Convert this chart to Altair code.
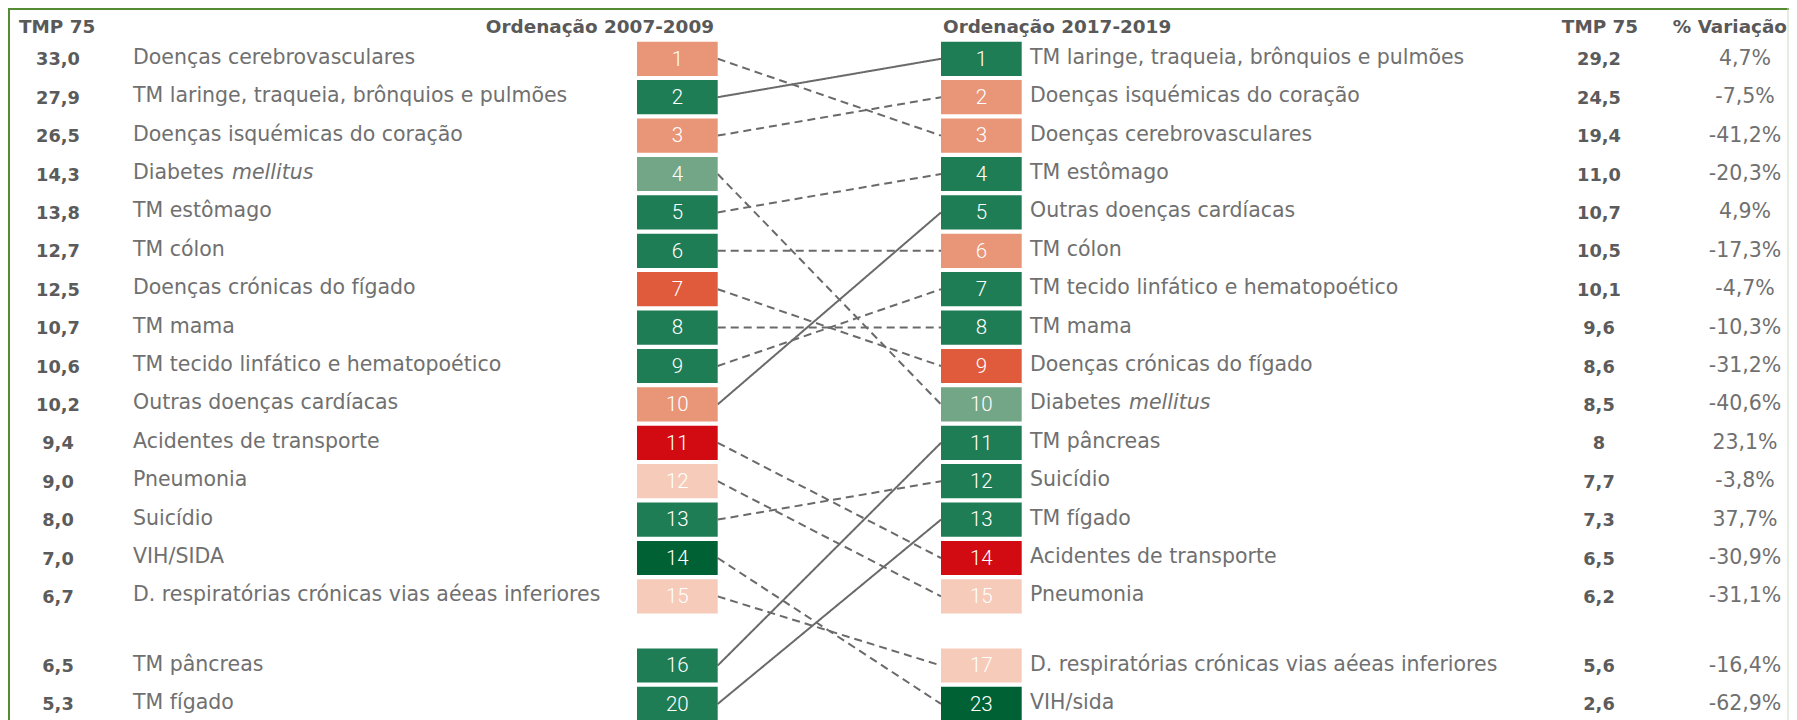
import altair as alt
import pandas as pd

# ---------------- data ----------------
left_rank = [1, 2, 3, 4, 5, 6, 7, 8, 9, 10, 11, 12, 13, 14, 15, 16, 20]
left_cause = [
    "Doenças cerebrovasculares",
    "TM laringe, traqueia, brônquios e pulmões",
    "Doenças isquémicas do coração",
    "Diabetes mellitus",
    "TM estômago",
    "TM cólon",
    "Doenças crónicas do fígado",
    "TM mama",
    "TM tecido linfático e hematopoético",
    "Outras doenças cardíacas",
    "Acidentes de transporte",
    "Pneumonia",
    "Suicídio",
    "VIH/SIDA",
    "D. respiratórias crónicas vias aéeas inferiores",
    "TM pâncreas",
    "TM fígado",
]
left_tmp = [33.0, 27.9, 26.5, 14.3, 13.8, 12.7, 12.5, 10.7, 10.6, 10.2, 9.4, 9.0, 8.0, 7.0, 6.7, 6.5, 5.3]
left_color = ["salmon", "green", "salmon", "sage", "green", "green", "orange", "green", "green",
              "salmon", "red", "peach", "green", "dark", "peach", "green", "green"]

right_rank = [1, 2, 3, 4, 5, 6, 7, 8, 9, 10, 11, 12, 13, 14, 15, 17, 23]
right_cause = [
    "TM laringe, traqueia, brônquios e pulmões",
    "Doenças isquémicas do coração",
    "Doenças cerebrovasculares",
    "TM estômago",
    "Outras doenças cardíacas",
    "TM cólon",
    "TM tecido linfático e hematopoético",
    "TM mama",
    "Doenças crónicas do fígado",
    "Diabetes mellitus",
    "TM pâncreas",
    "Suicídio",
    "TM fígado",
    "Acidentes de transporte",
    "Pneumonia",
    "D. respiratórias crónicas vias aéeas inferiores",
    "VIH/sida",
]
right_tmp = [29.2, 24.5, 19.4, 11.0, 10.7, 10.5, 10.1, 9.6, 8.6, 8.5, 8, 7.7, 7.3, 6.5, 6.2, 5.6, 2.6]
right_var = [4.7, -7.5, -41.2, -20.3, 4.9, -17.3, -4.7, -10.3, -31.2, -40.6, 23.1, -3.8, 37.7,
             -30.9, -31.1, -16.4, -62.9]
right_color = ["green", "salmon", "salmon", "green", "green", "salmon", "green", "green", "orange",
               "sage", "green", "green", "green", "red", "peach", "peach", "dark"]

italic_word = "mellitus"

color_keys = ["salmon", "green", "sage", "orange", "red", "peach", "dark"]
color_vals = ["#E99577", "#1F7D55", "#73A686", "#E05A3C", "#D20A12", "#F6CBB9", "#006134"]

# ---------------- layout / style ----------------
W, H = 1781, 712
PITCH, OFFSET = 38.4, 12.4
GAP_AFTER = 15      # a blank gap follows the 15th row
GAP = 0.8
BOX_HALF = 0.445
FONT = "DejaVu Sans"
NAME_SIZE = 20.5
NUM_SIZE = 17.8
HEAD_SIZE = 18.4
NAME_COLOR = "#707070"
NUM_COLOR = "#5B5B5B"
LINE_COLOR = "#6A6A6A"

X_LTMP, X_LNAME = 50, 125
X_LBOX0, X_LBOX1 = 629, 709.7
X_RBOX0, X_RBOX1 = 933, 1013.7
X_RNAME, X_RTMP, X_RVAR = 1022, 1591, 1737
ITALIC_DX = 99


def slot(i):
    return i + 1 if i < GAP_AFTER else i + 1 + GAP


def fmt(v):
    if isinstance(v, int):
        return str(v)
    return f"{v:.1f}".replace(".", ",")


def split(name):
    if name.endswith(" " + italic_word):
        return name[: -len(italic_word) - 1], italic_word
    return name, ""


lp = [split(n) for n in left_cause]
rp = [split(n) for n in right_cause]
left = pd.DataFrame({
    "rank": [str(r) for r in left_rank],
    "plain": [p[0] for p in lp],
    "ital": [p[1] for p in lp],
    "tmp": [fmt(v) for v in left_tmp],
    "col": left_color,
    "slot": [slot(i) for i in range(len(left_rank))],
})
right = pd.DataFrame({
    "rank": [str(r) for r in right_rank],
    "plain": [p[0] for p in rp],
    "ital": [p[1] for p in rp],
    "tmp": [fmt(v) for v in right_tmp],
    "var": [fmt(v) + "%" for v in right_var],
    "col": right_color,
    "slot": [slot(i) for i in range(len(right_rank))],
})

norm = [n.lower() for n in right_cause]
links = []
for i, n in enumerate(left_cause):
    j = norm.index(n.lower())
    links.append({"y1": slot(i), "y2": slot(j), "kind": "solid" if right_var[j] > 0 else "dashed"})
links = pd.DataFrame(links)

ys = alt.Scale(domain=[-OFFSET / PITCH, (H - OFFSET) / PITCH], reverse=True)
col = alt.Color("col:N", scale=alt.Scale(domain=color_keys, range=color_vals), legend=None)


def boxes(df, x0, x1):
    return alt.Chart(df).mark_rect().transform_calculate(
        top=f"datum.slot - {BOX_HALF}", bot=f"datum.slot + {BOX_HALF}"
    ).encode(
        x=alt.value(x0), x2=alt.value(x1),
        y=alt.Y("top:Q", scale=ys, axis=None), y2="bot:Q", color=col,
    )


def box_text(df, xc):
    return alt.Chart(df).mark_text(
        font="Roboto", fontSize=20.5, fontWeight=300, color="white",
        align="center", baseline="alphabetic", dy=6.8,
    ).encode(x=alt.value(xc), y=alt.Y("slot:Q", scale=ys, axis=None), text="rank:N")


def txt(df, field, x, align="left", bold=False, size=NAME_SIZE, color=NAME_COLOR, dy=5, italic=False):
    kw = dict(font=FONT, fontSize=size, color=color, align=align, baseline="alphabetic", dy=dy)
    if bold:
        kw["fontWeight"] = "bold"
    if italic:
        kw["fontStyle"] = "italic"
    return alt.Chart(df).mark_text(**kw).encode(
        x=alt.value(x), y=alt.Y("slot:Q", scale=ys, axis=None), text=f"{field}:N"
    )


def header(t, x, align):
    return alt.Chart(pd.DataFrame({"t": [t]})).mark_text(
        font=FONT, fontSize=HEAD_SIZE, fontWeight="bold", color="#595959",
        align=align, baseline="alphabetic",
    ).encode(x=alt.value(x), y=alt.value(25), text="t:N")


rules = alt.Chart(links).mark_rule(strokeWidth=2, color=LINE_COLOR).encode(
    x=alt.value(X_LBOX1), x2=alt.value(X_RBOX0),
    y=alt.Y("y1:Q", scale=ys, axis=None), y2="y2:Q",
    strokeDash=alt.StrokeDash("kind:N", scale=alt.Scale(domain=["solid", "dashed"], range=[[1, 0], [8, 5]]), legend=None),
)

frame_df = pd.DataFrame({"k": ["frame"]})
top_border = alt.Chart(frame_df).mark_rule(color="#548C34", strokeWidth=2).encode(
    x=alt.value(0), x2=alt.value(W), y=alt.value(1), detail="k:N")
left_border = alt.Chart(frame_df).mark_rule(color="#548C34", strokeWidth=2).encode(
    x=alt.value(1), y=alt.value(0), y2=alt.value(H), detail="k:N")
right_border = alt.Chart(frame_df).mark_rule(color="#C9DCC0", strokeWidth=1).encode(
    x=alt.value(W - 1), y=alt.value(0), y2=alt.value(H), detail="k:N")

left_it = left[left["ital"] != ""]
right_it = right[right["ital"] != ""]

chart = alt.layer(
    top_border, left_border, right_border,
    rules,
    boxes(left, X_LBOX0, X_LBOX1), boxes(right, X_RBOX0, X_RBOX1),
    box_text(left, (X_LBOX0 + X_LBOX1) / 2), box_text(right, (X_RBOX0 + X_RBOX1) / 2),
    txt(left, "tmp", X_LTMP, align="center", bold=True, size=NUM_SIZE, color=NUM_COLOR, dy=6.5),
    txt(left, "plain", X_LNAME),
    txt(left_it, "ital", X_LNAME + ITALIC_DX, italic=True),
    txt(right, "plain", X_RNAME),
    txt(right_it, "ital", X_RNAME + ITALIC_DX, italic=True),
    txt(right, "tmp", X_RTMP, align="center", bold=True, size=NUM_SIZE, color=NUM_COLOR, dy=6.5),
    txt(right, "var", X_RVAR, align="center", dy=6),
    header("TMP 75", 11, "left"),
    header("Ordenação 2007-2009", 706, "right"),
    header("Ordenação 2017-2019", 935, "left"),
    header("TMP 75", 1592, "center"),
    header("% Variação", 1779, "right"),
).properties(
    width=W, height=H, padding=0, autosize=alt.AutoSizeParams(type="none"),
).configure_view(strokeWidth=0)

chart.save("out.html", embed_options={"renderer": "svg", "actions": False})
